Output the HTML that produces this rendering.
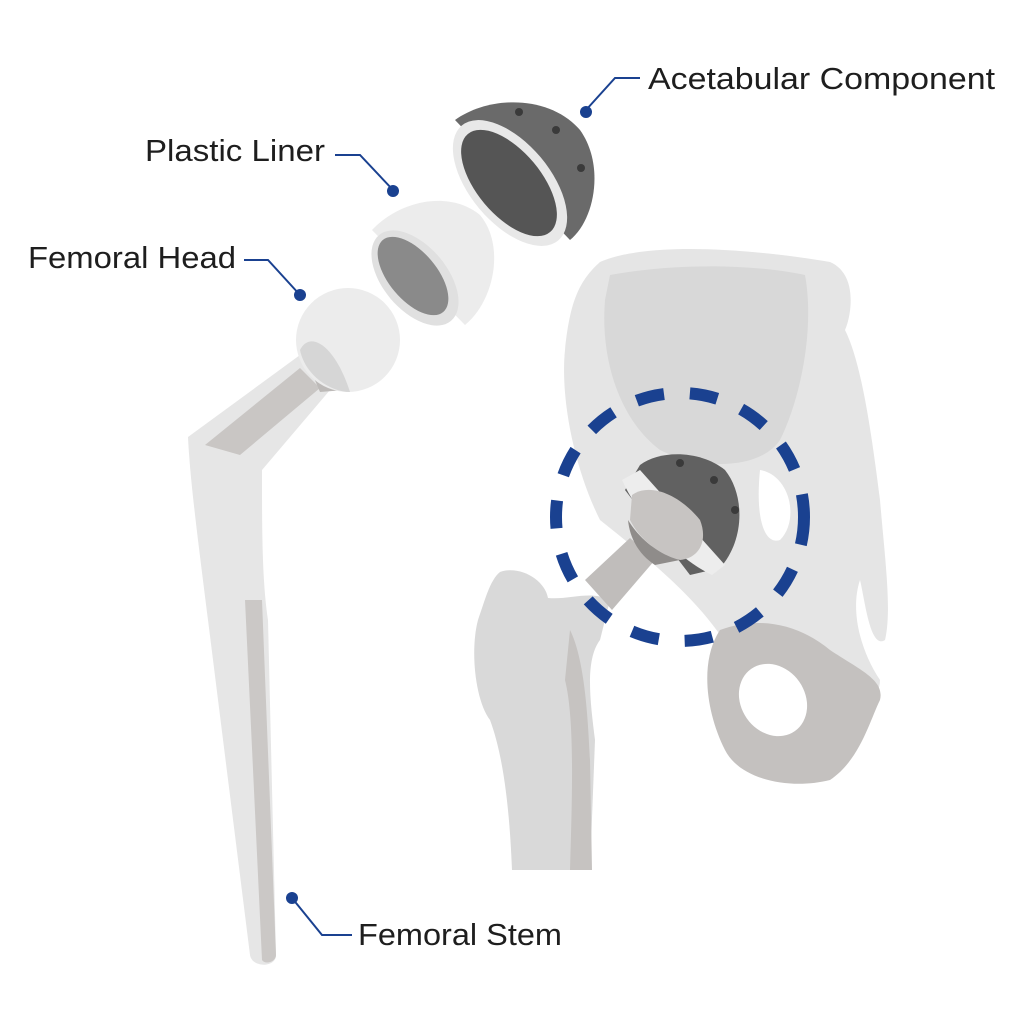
<!DOCTYPE html>
<html><head><style>
html,body{margin:0;padding:0;background:#fff;}
svg{display:block;}
text{font-family:"Liberation Sans",sans-serif;font-size:31px;fill:#1e1e1e;}
</style></head><body>
<svg width="1024" height="1024" viewBox="0 0 1024 1024">
<!-- pelvis -->
<path d="M600 262 C650 240 760 250 830 262 C860 275 850 320 845 330 C860 360 870 420 880 500 C885 560 892 610 885 640 C870 650 865 600 860 580 C850 610 860 650 880 680 C880 700 860 710 840 720 C800 720 760 690 730 650 C700 600 650 560 600 520 C575 470 560 400 565 350 C570 300 580 280 600 262 Z" fill="#e5e5e5"/>
<path d="M610 275 C680 262 760 265 805 275 C815 330 800 400 780 440 C760 470 700 470 660 450 C620 420 600 360 605 300 Z" fill="#d8d8d8"/>
<path d="M760 470 C790 475 800 520 780 540 C765 545 755 520 760 470 Z" fill="#fff"/>
<path d="M720 630 C760 615 800 625 830 650 C860 670 885 680 880 700 C870 720 860 760 830 780 C790 790 740 780 725 750 C705 710 700 660 720 630 Z" fill="#c4c1bf"/>
<ellipse cx="773" cy="700" rx="32" ry="38" transform="rotate(-35 773 700)" fill="#fff"/>
<!-- femur -->
<path d="M500 572 C520 565 545 580 548 598 C570 600 590 590 610 600 L600 640 C585 660 590 700 595 740 L590 870 L512 870 C510 820 505 760 490 720 C475 700 470 650 478 620 C485 600 490 580 500 572 Z" fill="#d9d9d9"/>
<path d="M570 630 C585 660 588 720 590 760 L592 870 L570 870 C572 800 575 720 565 680 Z" fill="#c6c3c1"/>
<!-- implant in hip -->
<path d="M585 580 L630 538 L655 560 L612 610 Z" fill="#c0bdbb"/>
<path d="M640 465 C660 450 700 450 725 470 C745 495 745 540 720 568 L690 575 L625 490 Z" fill="#616161"/>
<path d="M622 480 L640 470 L725 565 L712 575 C680 560 640 520 622 480 Z" fill="#ededed"/>
<path d="M632 495 C650 482 680 495 700 520 C708 540 700 558 680 560 C660 555 640 540 630 520 Z" fill="#c7c4c2"/>
<path d="M628 520 C640 540 660 555 680 560 L655 565 C640 555 630 540 628 520 Z" fill="#8f8c8a"/>
<circle cx="680" cy="463" r="4" fill="#3a3a3a"/><circle cx="714" cy="480" r="4" fill="#3a3a3a"/><circle cx="735" cy="510" r="4" fill="#3a3a3a"/>
<!-- dashed circle -->
<circle cx="680" cy="517" r="124" fill="none" stroke="#1a4190" stroke-width="12" stroke-dasharray="28 26"/>
<!-- stem -->
<path d="M188 437 L300 355 L330 390 L262 470 C262 530 262 580 268 620 L276 955 C276 968 252 968 250 955 L208 620 C198 540 190 480 188 437 Z" fill="#e6e6e6"/>
<path d="M205 445 L300 368 L320 388 L240 455 Z" fill="#c9c6c4"/>
<path d="M245 600 L262 600 L276 955 C276 962 265 965 262 960 Z" fill="#cbc8c6"/>
<path d="M300 345 L330 340 L345 390 L320 392 Z" fill="#bdbab8"/>
<!-- femoral head -->
<circle cx="348" cy="340" r="52" fill="#ececec"/>
<path d="M300 350 C310 330 335 345 350 392 C330 392 305 375 300 350 Z" fill="#d6d6d6"/>
<!-- plastic liner -->
<path d="M372 230 C400 200 450 190 480 215 C505 245 495 300 465 325 Z" fill="#ececec"/>
<ellipse cx="415" cy="278" rx="32" ry="56" transform="rotate(-40 415 278)" fill="#e0e0e0"/>
<ellipse cx="413" cy="276" rx="24" ry="47" transform="rotate(-40 413 276)" fill="#8a8a8a"/>
<!-- acetabular component -->
<path d="M455 120 C490 95 550 95 580 130 C605 165 595 220 570 240 Z" fill="#6a6a6a"/>
<ellipse cx="510" cy="183" rx="40" ry="75" transform="rotate(-40 510 183)" fill="#e8e8e8"/>
<ellipse cx="509" cy="183" rx="32" ry="64" transform="rotate(-40 509 183)" fill="#555"/>
<circle cx="519" cy="112" r="4" fill="#3a3a3a"/><circle cx="556" cy="130" r="4" fill="#3a3a3a"/><circle cx="581" cy="168" r="4" fill="#3a3a3a"/>
<!-- leaders -->
<g stroke="#1a4190" stroke-width="2" fill="none">
<path d="M640 78 L615 78 L586 110"/>
<path d="M335 155 L360 155 L393 190"/>
<path d="M244 260 L268 260 L300 295"/>
<path d="M352 935 L322 935 L292 898"/>
</g>
<g fill="#1a4190"><circle cx="586" cy="112" r="6"/><circle cx="393" cy="191" r="6"/><circle cx="300" cy="295" r="6"/><circle cx="292" cy="898" r="6"/></g>
<text x="648" y="89" textLength="347" lengthAdjust="spacingAndGlyphs">Acetabular Component</text>
<text x="145" y="161" textLength="180" lengthAdjust="spacingAndGlyphs">Plastic Liner</text>
<text x="28" y="268" textLength="208" lengthAdjust="spacingAndGlyphs">Femoral Head</text>
<text x="358" y="945" textLength="204" lengthAdjust="spacingAndGlyphs">Femoral Stem</text>
</svg>
</body></html>
